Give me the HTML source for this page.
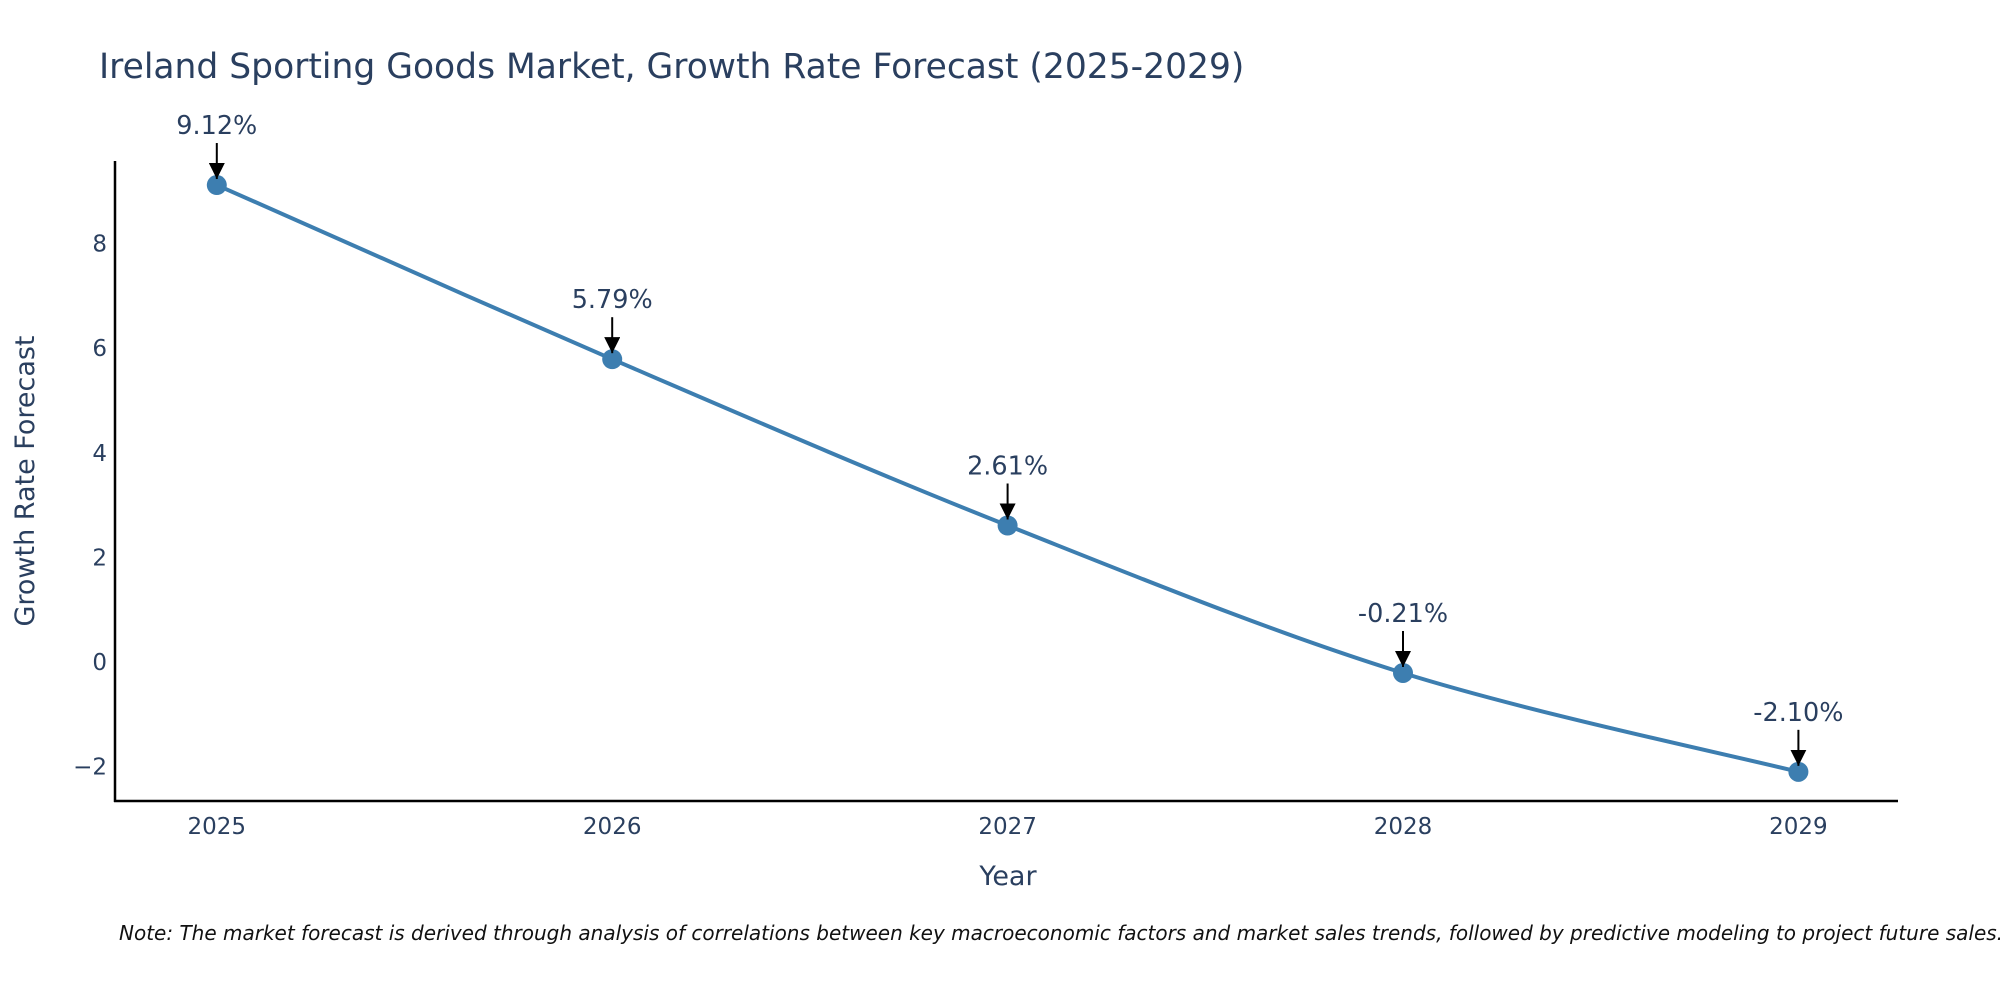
<!DOCTYPE html>
<html><head><meta charset="utf-8"><style>
body{margin:0;background:#fff;}
svg text{font-family:"DejaVu Sans","Liberation Sans",sans-serif;fill:#2a3f5f;}
</style></head><body>
<svg width="2000" height="1000" xmlns="http://www.w3.org/2000/svg">
<defs><marker id="ah" viewBox="0 0 10 10" refX="10" refY="5" markerWidth="8" markerHeight="8" orient="auto"><path d="M0,0 L10,5 L0,10 z" fill="#000"/></marker></defs>
<text x="99" y="78" font-size="34.5">Ireland Sporting Goods Market, Growth Rate Forecast (2025-2029)</text>
<g id="plot"></g>
<text x="1008" y="885" font-size="27" text-anchor="middle">Year</text>
<text transform="translate(34,481) rotate(-90)" font-size="27" text-anchor="middle">Growth Rate Forecast</text>
<text x="119" y="940" font-size="20" font-style="italic" style="fill:#111">Note: The market forecast is derived through analysis of correlations between key macroeconomic factors and market sales trends, followed by predictive modeling to project future sales.</text>
</svg>
<script>
const years=[2025,2026,2027,2028,2029];
const values=[9.12,5.79,2.61,-0.21,-2.10];
const labels=["9.12%","5.79%","2.61%","-0.21%","-2.10%"];
const yTicks=[-2,0,2,4,6,8];
const NS="http://www.w3.org/2000/svg";
const g=document.getElementById('plot');
const xS=v=>216.8+(v-2025)*395.4;
const yS=v=>662-v*52.3;
function el(t,a,p){const e=document.createElementNS(NS,t);for(const k in a)e.setAttribute(k,a[k]);(p||g).appendChild(e);return e;}
let e;
e=el('line',{x1:115,y1:161,x2:115,y2:802,stroke:'#000','stroke-width':2.5});


e=el('line',{x1:114,y1:801,x2:1898,y2:801,stroke:'#000','stroke-width':2.5});


yTicks.forEach(t=>{const tx=el('text',{x:107,y:yS(t)+8,'font-size':23,'text-anchor':'end'});tx.textContent=t<0?'\u2212'+Math.abs(t):t;

});
years.forEach(y=>{const tx=el('text',{x:xS(y),y:834,'font-size':23,'text-anchor':'middle'});tx.textContent=y;

});
const pts=years.map((y,i)=>[xS(y),yS(values[i])]);
let d='M'+pts[0].join(',');
for(let i=0;i<pts.length-1;i++){const p0=pts[Math.max(0,i-1)],p1=pts[i],p2=pts[i+1],p3=pts[Math.min(pts.length-1,i+2)];const s=6;
d+=` C${p1[0]+(p2[0]-p0[0])/s},${p1[1]+(p2[1]-p0[1])/s} ${p2[0]-(p3[0]-p1[0])/s},${p2[1]-(p3[1]-p1[1])/s} ${p2[0]},${p2[1]}`;}
e=el('path',{d:d,fill:'none',stroke:'#3d7eb0','stroke-width':4});


pts.forEach((p,i)=>{
const c=el('circle',{cx:p[0],cy:p[1],r:10,fill:'#3d7eb0'});


const a=el('line',{x1:p[0],y1:p[1]-42,x2:p[0],y2:p[1]-6,stroke:'#000','stroke-width':2,'marker-end':'url(#ah)'});


const t=el('text',{x:p[0],y:p[1]-51,'font-size':25.5,'text-anchor':'middle'});t.textContent=labels[i];


});
</script>
</body></html>
